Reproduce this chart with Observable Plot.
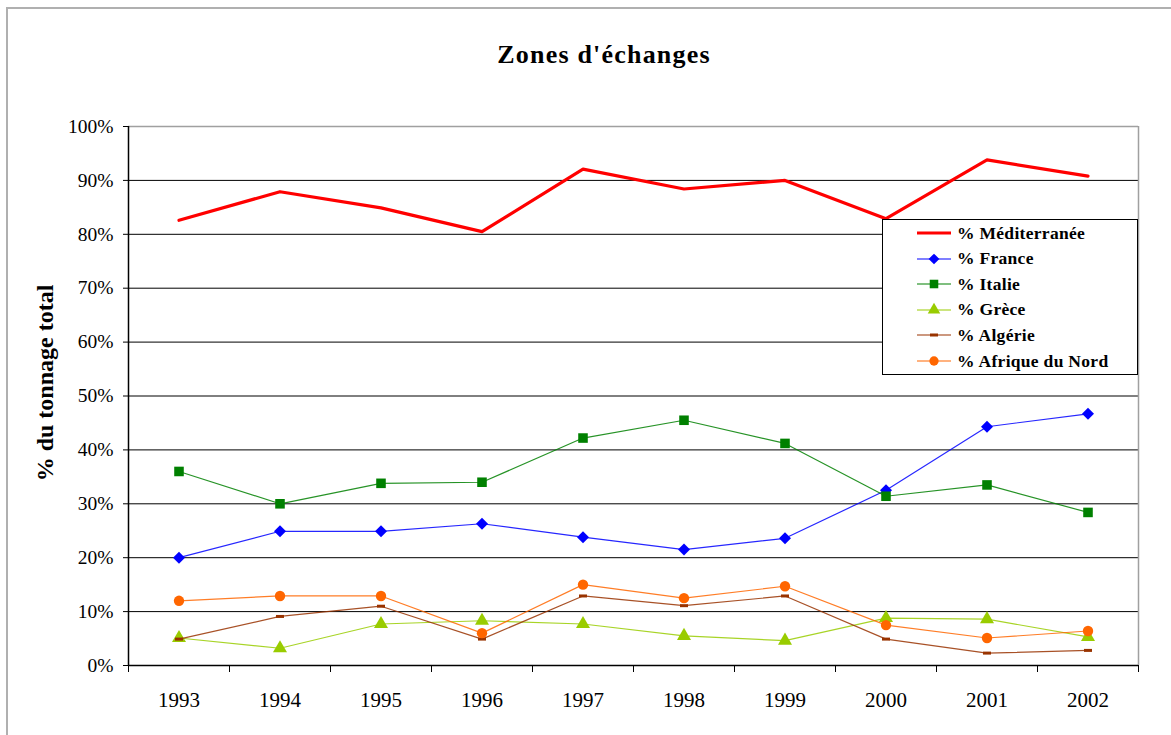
<!DOCTYPE html>
<html>
<head>
<meta charset="utf-8">
<script src="https://cdn.jsdelivr.net/npm/d3@7"></script>
<script src="https://cdn.jsdelivr.net/npm/@observablehq/plot@0.6"></script>
<style>
  html, body { margin: 0; padding: 0; background: #fff; }
  #wrap { position: relative; width: 1171px; height: 735px; overflow: hidden; font-family: "Liberation Serif", "Times New Roman", serif; }
  #frame { position: absolute; left: 6px; top: 7px; width: 1200px; height: 800px; border-left: 2px solid #b0b0b0; border-top: 2px solid #b0b0b0; }
  #title { position: absolute; left: 604px; top: 40px; transform: translateX(-50%); font-size: 26px; letter-spacing: 1.2px; font-weight: bold; white-space: nowrap; }
  #chart { position: absolute; left: 0; top: 0; }
  #legend { position: absolute; left: 882px; top: 219px; width: 256px; height: 156px; border: 1px solid #000; background: #fff; box-sizing: border-box; }
  .item { position: absolute; left: 0; height: 20px; font-size: 17.5px; font-weight: bold; letter-spacing: 0.3px; display: flex; align-items: center; white-space: nowrap; }
  .item svg { margin-left: 34px; margin-right: 6px; }
</style>
</head>
<body>
<div id="wrap">
  <div id="frame"></div>
  <div id="chart"></div>
  <div id="title">Zones d'échanges</div>
  <div id="legend"></div>
</div>
<script>
const years = [1993, 1994, 1995, 1996, 1997, 1998, 1999, 2000, 2001, 2002];
const mediterranee = [82.6, 87.9, 84.9, 80.5, 92.1, 88.4, 90.0, 82.9, 93.8, 90.8];
const france      = [20.0, 24.9, 24.9, 26.3, 23.8, 21.5, 23.6, 32.5, 44.3, 46.7];
const italie      = [36.0, 30.0, 33.8, 34.0, 42.2, 45.5, 41.2, 31.4, 33.5, 28.4];
const grece       = [5.1, 3.2, 7.7, 8.3, 7.7, 5.5, 4.6, 8.8, 8.6, 5.3];
const algerie     = [4.9, 9.1, 11.0, 4.9, 12.9, 11.1, 12.9, 4.9, 2.3, 2.8];
const afrique     = [12.0, 12.9, 12.9, 6.0, 15.0, 12.5, 14.7, 7.5, 5.1, 6.4];
const yTicks = [0, 0.1, 0.2, 0.3, 0.4, 0.5, 0.6, 0.7, 0.8, 0.9, 1.0];
const seriesNames = ["% Méditerranée", "% France", "% Italie", "% Grèce", "% Algérie", "% Afrique du Nord"];

const dash = { draw(ctx, size) { ctx.rect(-4, -1.5, 8, 3); } };

const series = [
  { name: seriesNames[0], values: mediterranee, color: "#ff0000", width: 3.2, symbol: null },
  { name: seriesNames[1], values: france, color: "#0000ff", width: 1.2, symbol: "diamond2", r: 5.4 },
  { name: seriesNames[2], values: italie, color: "#008000", width: 1.2, symbol: "square", r: 5.4 },
  { name: seriesNames[3], values: grece, color: "#99cc00", width: 1.2, symbol: "triangle", r: 5.2 },
  { name: seriesNames[4], values: algerie, color: "#993300", width: 1.2, symbol: dash, r: 3 },
  { name: seriesNames[5], values: afrique, color: "#ff6600", width: 1.2, symbol: "circle", r: 5.2 }
];

const rows = series.map(s => years.map((y, i) => ({ year: y, value: s.values[i] / 100, name: s.name })));

const marks = [
  Plot.ruleY(yTicks.slice(1, -1), { stroke: "#000", strokeWidth: 1 }),
  Plot.ruleY([1], { stroke: "#a0a0a0", strokeWidth: 1.5 }),
  Plot.ruleX([2002.5], { stroke: "#a0a0a0", strokeWidth: 1.5 }),
  Plot.axisY({ ticks: yTicks, tickFormat: d => Math.round(d * 100) + "%", tickSize: 5, tickPadding: 10, fontSize: 19.5, label: null }),
  Plot.axisX({ ticks: years.map(y => y - 0.5).concat([2002.5]), tickFormat: () => "", tickSize: 7, label: null }),
  Plot.axisX({ ticks: years, tickFormat: d => String(d), tickSize: 0, tickPadding: 27, fontSize: 21, label: null }),
  Plot.ruleY([0], { stroke: "#000", strokeWidth: 1.5 }),
  Plot.ruleX([1992.5], { stroke: "#000", strokeWidth: 1.5 }),
  Plot.text(["% du tonnage total"], { frameAnchor: "left", textAnchor: "middle", rotate: -90, dx: -83, dy: -13, fontSize: 24, fontWeight: "bold", style: { letterSpacing: "2px" } })
];
series.forEach((s, k) => {
  marks.push(Plot.line(rows[k], { x: "year", y: "value", stroke: s.color, strokeWidth: s.width, strokeOpacity: s.symbol ? 0.85 : 1 }));
  if (s.symbol) marks.push(Plot.dot(rows[k], { x: "year", y: "value", symbol: () => s.symbol, fill: s.color, stroke: "none", r: s.r }));
});

const chart = Plot.plot({
  width: 1171,
  height: 735,
  marginLeft: 128,
  marginRight: 33,
  marginTop: 126,
  marginBottom: 70,
  style: { fontFamily: "Liberation Serif, Times New Roman, serif", background: "transparent", color: "#000" },
  x: { type: "linear", domain: [1992.5, 2002.5] },
  y: { domain: [0, 1] },
  symbol: { type: "identity" },
  marks
});
document.getElementById("chart").appendChild(chart);

// legend
const legend = document.getElementById("legend");
series.forEach((s, i) => {
  const item = document.createElement("div");
  item.className = "item";
  item.style.top = (3 + i * 25.6) + "px";
  const ns = "http://www.w3.org/2000/svg";
  const svg = document.createElementNS(ns, "svg");
  svg.setAttribute("width", 34); svg.setAttribute("height", 20);
  const ln = document.createElementNS(ns, "line");
  ln.setAttribute("x1", 0); ln.setAttribute("x2", 34); ln.setAttribute("y1", 10); ln.setAttribute("y2", 10);
  ln.setAttribute("stroke", s.color); ln.setAttribute("stroke-width", s.width);
  svg.appendChild(ln);
  if (s.symbol) {
    const p = document.createElementNS(ns, "path");
    const sym = typeof s.symbol === "string"
      ? { diamond2: d3.symbolDiamond2, square: d3.symbolSquare, triangle: d3.symbolTriangle, circle: d3.symbolCircle }[s.symbol]
      : s.symbol;
    p.setAttribute("d", d3.symbol(sym, Math.PI * s.r * s.r * 0.8)());
    p.setAttribute("transform", "translate(17,10)");
    p.setAttribute("fill", s.color);
    svg.appendChild(p);
  }
  item.appendChild(svg);
  const t = document.createElement("span");
  t.textContent = s.name;
  item.appendChild(t);
  legend.appendChild(item);
});
</script>
</body>
</html>
